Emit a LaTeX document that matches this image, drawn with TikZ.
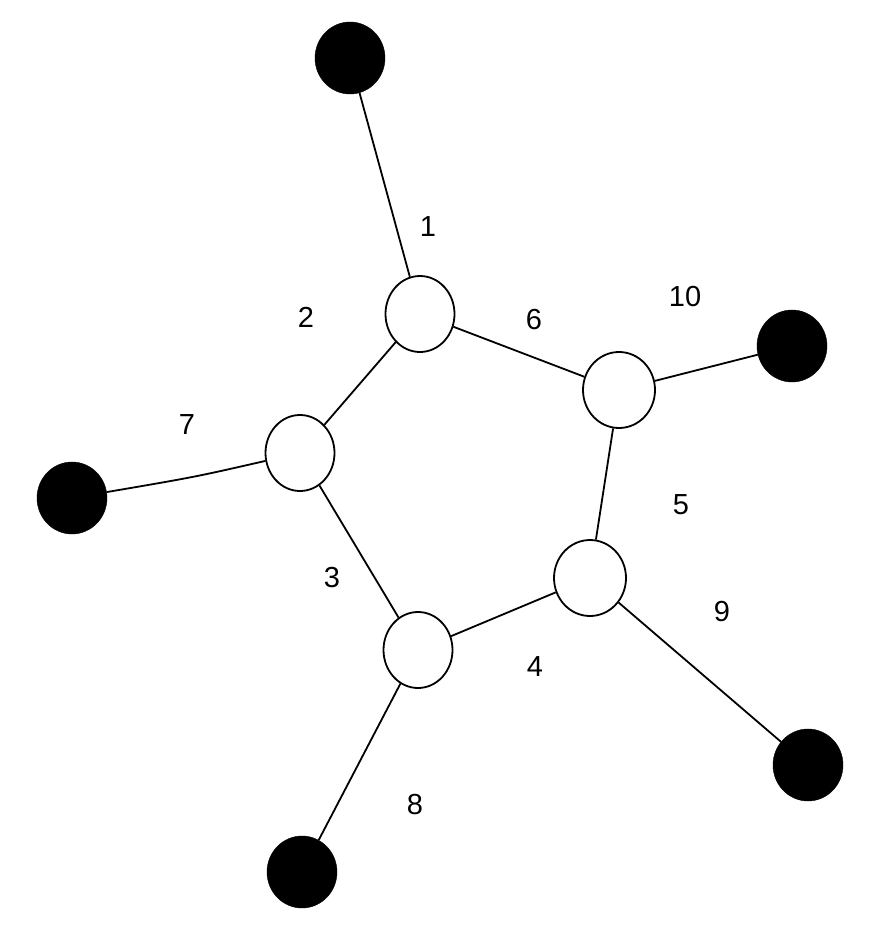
\documentclass[tikz,border=0pt]{standalone}
\usepackage{fontspec}
\setmainfont{Liberation Sans}
\usetikzlibrary{shapes.geometric}
\begin{document}
\begin{tikzpicture}[x=1pt,y=-1pt,
  wnode/.style={ellipse,draw=black,line width=1.8pt,fill=white,minimum width=69pt,minimum height=76pt,inner sep=0pt},
  bnode/.style={ellipse,fill=black,draw=black,minimum width=70pt,minimum height=72pt,inner sep=0pt},
  edge/.style={draw=black,line width=1.8pt},
  lbl/.style={font=\fontsize{29}{30}\selectfont,inner sep=0pt}]
\useasboundingbox[fill=white] (0,0) rectangle (896,947);
% black nodes
\node[bnode] (bt) at (350,58) {};
\node[bnode] (br) at (792,346) {};
\node[bnode] (bl) at (72,498) {};
\node[bnode] (bbr) at (808,765) {};
\node[bnode] (bb) at (302,872) {};
% white nodes
\node[wnode] (A) at (420,314) {};
\node[wnode,minimum width=72pt] (B) at (619,390) {};
\node[wnode] (C) at (300,453) {};
\node[wnode,minimum width=72pt] (D) at (590,578) {};
\node[wnode] (E) at (418,650) {};
\coordinate (k7) at (195,477);
% edges
\begin{scope}[on background layer/.style={}]
\draw[edge] (bt) -- (A);
\draw[edge] (A) -- (B);
\draw[edge] (A) -- (C);
\draw[edge] (C) -- (E);
\draw[edge] (B) -- (D);
\draw[edge] (E) -- (D);
\draw[edge] (B) -- (br);
\draw[edge] (bl) .. controls (k7) .. (C);
\draw[edge] (D) -- (bbr);
\draw[edge] (E) -- (bb);
\end{scope}
% labels
\node[lbl] (l1) at (428,227) {1};
\node[lbl] (l2) at (306,317) {2};
\node[lbl] (l6) at (534,320) {6};
\node[lbl] (l10) at (685,297) {10};
\node[lbl] (l7) at (187,425) {7};
\node[lbl] (l5) at (681,505) {5};
\node[lbl] (l3) at (332,578) {3};
\node[lbl] (l9) at (722,612) {9};
\node[lbl] (l4) at (535,667) {4};
\node[lbl] (l8) at (415,805) {8};
\end{tikzpicture}
\end{document}
